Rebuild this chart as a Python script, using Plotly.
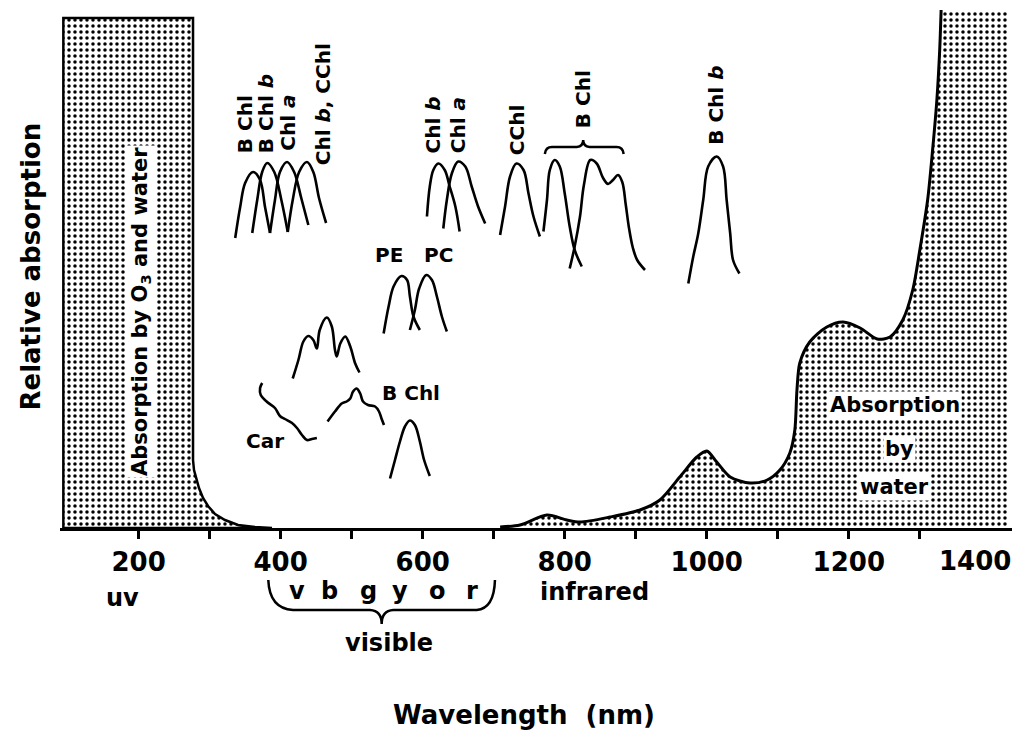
import plotly.graph_objects as go

# ---------------------------------------------------------------------------
# Absorption of sunlight by the atmosphere / water and by photosynthetic
# pigments.  x = wavelength (nm), y = relative absorption (arbitrary units).
# ---------------------------------------------------------------------------

# Ozone + water absorption below ~280 nm (left shaded block)
o3_nm = [94, 94, 276.6, 276.6, 278, 280.8, 285, 290.7, 297.7, 307.6, 321.6, 340, 363.9, 387.8, 94]
o3_abs = [0, 102, 102, 13.6, 11.6, 10, 8, 6, 4.4, 2.8, 1.6, 0.6, 0.2, 0, 0]

# Water absorption in the near infrared (right shaded area)
water_nm = [709, 737, 775, 803, 821.5, 864, 906, 934, 962, 986, 1000, 1014, 1033, 1061,
            1085, 1103, 1117, 1124, 1127, 1131, 1145, 1169, 1192, 1216, 1240, 1258, 1276,
            1290, 1300, 1311, 1318, 1324, 1328, 1330]
water_abs = [0.2, 0.6, 2.6, 1.6, 1.2, 2.2, 3.6, 5.6, 10.2, 14.2, 15.4, 13.2, 10.2, 9,
             9.6, 11.6, 15, 19.6, 27.6, 33, 37.2, 40.2, 41.2, 40, 37.8, 38.2, 41.6,
             47.6, 55.6, 65.6, 75.6, 85.6, 95.6, 103.6]
water_sat_nm = [1330, 1423, 1423, 1330, 1330]
water_sat_abs = [0, 0, 103.6, 103.6, 0]

# Soret-region bands: B Chl, B Chl b, Chl a, Chl b / CChl
bchl_soret_nm = [336, 343, 350, 361, 371, 378, 385]
bchl_soret_abs = [58, 64.2, 69, 71.2, 69.6, 64.2, 59]
bchlb_soret_nm = [360, 367, 374, 381, 391, 401, 410]
bchlb_soret_abs = [59, 65.6, 71.2, 73, 71.2, 65.6, 59.2]
chla_soret_nm = [385, 392, 399, 409, 419, 429, 439]
chla_soret_abs = [59, 65.6, 71.2, 73.2, 71.2, 66, 60.6]
chlb_soret_nm = [410, 417, 426, 437, 446, 454, 464]
chlb_soret_abs = [59.2, 65.6, 71.2, 73.2, 71.2, 66, 61]

# Red bands of Chl b and Chl a
chlb_red_nm = [606, 610, 615, 622, 631, 638, 646, 652]
chlb_red_abs = [62.3, 68.3, 71.6, 72.9, 71.6, 68.3, 64.3, 59.3]
chla_red_nm = [629, 634, 641, 650, 660, 669, 678, 688]
chla_red_abs = [59.9, 65.6, 70.9, 73.3, 72.3, 68.3, 64.3, 60.9]

# Chlorobium chlorophyll
cchl_nm = [709, 716, 723, 732, 742, 749, 756, 765]
cchl_abs = [58.6, 64.3, 70.3, 72.9, 71.6, 66.9, 62.3, 58.3]

# Bacteriochlorophyll infrared bands (two forms)
bchl_ir1_nm = [770, 775, 779, 786, 793, 800, 807, 814, 824]
bchl_ir1_abs = [59.3, 65.6, 71.6, 73.6, 72.3, 66.9, 60.3, 55.6, 52.3]
bchl_ir2_nm = [807, 814, 821.5, 827, 836, 845, 854, 861, 868, 875, 881, 886, 890.5, 896, 902, 913]
bchl_ir2_abs = [51.9, 56.3, 62.3, 68.6, 73.6, 72.9, 70, 68.8, 69.6, 70.6, 69.2, 64.6, 60, 56, 53.6, 51.6]

# Bacteriochlorophyll b
bchlb_ir_nm = [974, 981, 988, 995, 1002, 1014, 1023, 1028, 1033, 1037, 1046]
bchlb_ir_abs = [48.9, 54.3, 58.9, 65.6, 72.3, 74.3, 72.3, 65.6, 58.9, 53.6, 50.9]

# Phycoerythrin and phycocyanin
pe_nm = [545, 552, 559, 570, 578, 582, 587, 596]
pe_abs = [38.9, 44.3, 48.3, 50.4, 49.6, 46.3, 42.3, 39.6]
pc_nm = [582, 589, 595, 605, 613, 620, 627, 634]
pc_abs = [39.6, 43.6, 47.9, 50.6, 49.6, 46.3, 42.3, 39.3]

# Carotenoid triple band
car3_nm = [417, 425, 432, 439, 446, 451, 455, 465, 472, 476.5, 479, 484, 491, 498, 505, 511]
car3_abs = [29.9, 33.6, 37.3, 38.4, 37.6, 35.9, 39.6, 42.1, 40.3, 35.6, 34.3, 36.9, 38.3, 36.3, 32.9, 31.1]

# Carotenoid (Car) trace
car_nm = [374, 371, 372, 381, 392, 399, 406, 416, 423, 430, 437, 444, 451]
car_abs = [29, 28, 26.6, 25.2, 24, 22.4, 21.8, 21, 20, 18.6, 17.6, 17.8, 18]

# Bacteriochlorophyll bands in the visible
bchl_vis_nm = [466, 476.5, 486, 493, 498, 502, 507, 512, 516, 523, 533, 538.5, 542, 545.5]
bchl_vis_abs = [21.3, 23.3, 24.9, 25.3, 25.9, 27.3, 27.9, 26.9, 25.3, 24.6, 24.3, 23.3, 21.9, 20.6]
bchl_589_nm = [554, 561, 568, 575, 582, 589, 596, 602, 610]
bchl_589_abs = [9.9, 13.6, 17.3, 20.3, 21.5, 20.6, 17.3, 13.6, 10.4]

# Axis ticks
tick_nm = [200, 300, 400, 500, 600, 700, 800, 900, 1000, 1100, 1200, 1300]
tick_text = ["200", " ", "400", " ", "600", " ", "800", " ", "1000", " ", "1200", " "]

# Colour names under the visible range
colour_letters = ["v", "b", "g", "y", "o", "r"]
colour_nm = [423, 469, 523, 568, 621, 669]

FONT = "DejaVu Sans"
STIPPLE = dict(shape=".", fgcolor="black", bgcolor="white", size=6, solidity=0.27, fillmode="replace")

fig = go.Figure()

# shaded absorption regions
fig.add_trace(go.Scatter(x=o3_nm, y=o3_abs, mode="lines", fill="toself",
                         fillpattern=STIPPLE, fillcolor="white",
                         line=dict(color="black", width=2.5),
                         hoverinfo="skip", showlegend=False))
fig.add_trace(go.Scatter(x=water_sat_nm, y=water_sat_abs, mode="lines", fill="toself",
                         fillpattern=STIPPLE, fillcolor="white",
                         line=dict(color="rgba(0,0,0,0)", width=0),
                         hoverinfo="skip", showlegend=False))
fig.add_trace(go.Scatter(x=water_nm, y=water_abs, mode="lines", fill="tozeroy",
                         fillpattern=STIPPLE, fillcolor="white",
                         line=dict(color="black", width=3, shape="spline", smoothing=0.8),
                         hoverinfo="skip", showlegend=False))

bands = [
    (bchl_soret_nm, bchl_soret_abs), (bchlb_soret_nm, bchlb_soret_abs),
    (chla_soret_nm, chla_soret_abs), (chlb_soret_nm, chlb_soret_abs),
    (chlb_red_nm, chlb_red_abs), (chla_red_nm, chla_red_abs),
    (cchl_nm, cchl_abs), (bchl_ir1_nm, bchl_ir1_abs), (bchl_ir2_nm, bchl_ir2_abs),
    (bchlb_ir_nm, bchlb_ir_abs), (pe_nm, pe_abs), (pc_nm, pc_abs),
    (car3_nm, car3_abs), (car_nm, car_abs), (bchl_vis_nm, bchl_vis_abs),
    (bchl_589_nm, bchl_589_abs),
]
for bx, by in bands:
    fig.add_trace(go.Scatter(x=bx, y=by, mode="lines",
                             line=dict(color="black", width=2.6, shape="spline", smoothing=1.0),
                             hoverinfo="skip", showlegend=False))

ann = []


def label(text, x, y, size=20, angle=0, xanchor="center", yanchor="middle", bg=None, **kw):
    d = dict(text=text, x=x, y=y, showarrow=False, textangle=angle,
             xanchor=xanchor, yanchor=yanchor,
             font=dict(family=FONT, size=size, color="black", weight="bold"))
    if bg:
        d["bgcolor"] = bg
        d["borderpad"] = 1
    d.update(kw)
    ann.append(d)


# pigment names (vertical)
label("B Chl", 350, 74.6, angle=-90, yanchor="bottom")
label("B Chl <i>b</i>", 379, 74.6, angle=-90, yanchor="bottom")
label("Chl <i>a</i>", 410, 75, angle=-90, yanchor="bottom")
label("Chl <i>b</i>, CChl", 460, 72.2, angle=-90, yanchor="bottom")
label("Chl <i>b</i>", 614.5, 74.6, angle=-90, yanchor="bottom")
label("Chl <i>a</i>", 650, 74.6, angle=-90, yanchor="bottom")
label("CChl", 733, 74.2, angle=-90, yanchor="bottom")
label("B Chl", 826, 79.6, angle=-90, yanchor="bottom")
label("B Chl <i>b</i>", 1012, 76.2, angle=-90, yanchor="bottom")

# horizontal pigment names
label("PE", 552.6, 54.6, size=20)
label("PC", 621.6, 54.6, size=20)
label("B Chl", 583.5, 27, size=20)
label("Car", 378, 17.4, size=20)

# region captions
label("Absorption by O<sub>3</sub> and water", 203.4, 43.2, size=21, angle=-90, bg="white")
label("Absorption", 1265, 24.6, size=21, bg="white")
label("by", 1272, 15.8, size=21, bg="white")
label("water", 1265, 8.2, size=21, bg="white")

# labels below the axis
label("1400", 1400, -0.063, size=26, yref="paper", xshift=-16)
label("uv", 178, -0.134, size=24, yref="paper")
label("infrared", 842.6, -0.122, size=24, yref="paper")
for letter, xnm in zip(colour_letters, colour_nm):
    label(letter, xnm, -0.1205, size=24, yref="paper")
label("visible", 552.6, -0.22, size=24, yref="paper")
label("Wavelength  (nm)", 0.487, -0.358, size=26, xref="paper", yref="paper")
label("Relative absorption", -0.0315, 0.5, size=26, angle=-90, xref="paper", yref="paper")

shapes = [
    # brace grouping the two bacteriochlorophyll forms
    dict(type="path", xref="x", yref="y",
         path="M 772,74.8 Q 773,76.2 782,76.2 L 817,76.2 Q 826,76.3 826,77.6 "
              "Q 826,76.3 835,76.2 L 873,76.2 Q 882,76.2 883,74.8",
         line=dict(color="black", width=2.5)),
    # brace under the visible range
    dict(type="path", xref="paper", yref="paper",
         path="M 0.2188,-0.0994 Q 0.2200,-0.1540 0.2447,-0.1568 L 0.3256,-0.1568 "
              "Q 0.3379,-0.1580 0.3379,-0.1836 Q 0.3379,-0.1580 0.3501,-0.1568 "
              "L 0.4377,-0.1568 Q 0.4560,-0.1540 0.4569,-0.0994",
         line=dict(color="black", width=2.5)),
]

fig.update_layout(
    width=1016, height=738,
    margin=dict(l=60, r=4, t=5, b=210),
    paper_bgcolor="white", plot_bgcolor="white",
    annotations=ann, shapes=shapes,
    xaxis=dict(range=[89.3, 1429.8], showgrid=False, zeroline=False,
               showline=True, linecolor="black", linewidth=2.5,
               ticks="outside", ticklen=8, tickwidth=2.5, tickcolor="black",
               tickvals=tick_nm, ticktext=tick_text, ticklabelstandoff=1,
               tickfont=dict(family=FONT, size=26, color="black", weight="bold")),
    yaxis=dict(range=[0, 104.6], showgrid=False, zeroline=False,
               showline=False, showticklabels=False, ticks=""),
)

fig.write_html("out.html")
